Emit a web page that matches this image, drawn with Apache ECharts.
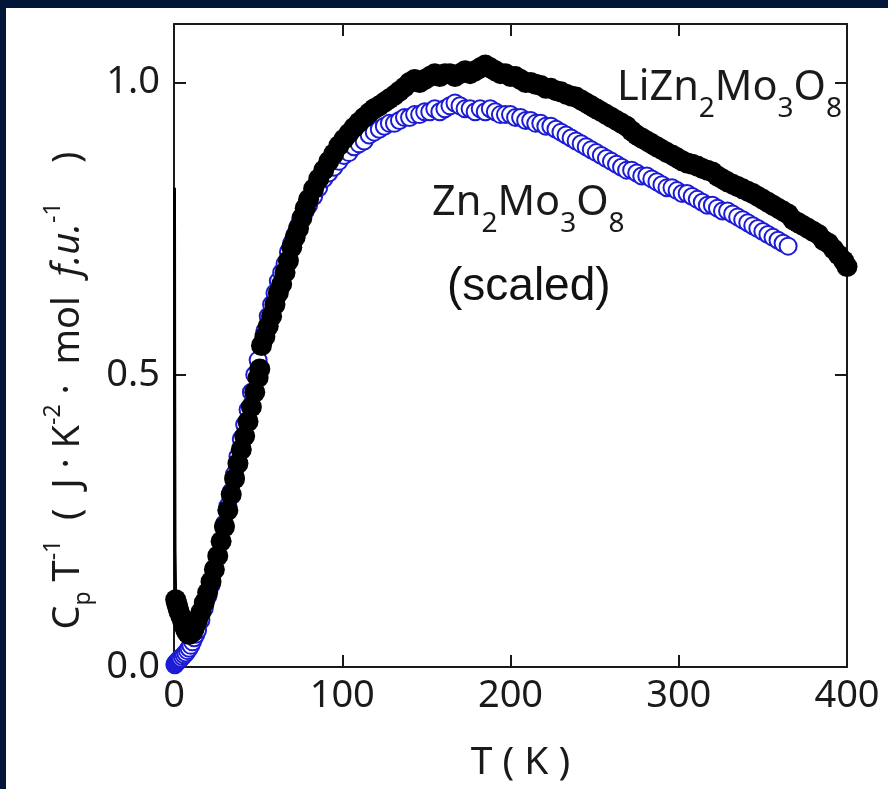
<!DOCTYPE html>
<html><head><meta charset="utf-8">
<script src="https://cdn.jsdelivr.net/npm/echarts@6/dist/echarts.min.js"></script>
<style>
html,body{margin:0;padding:0;background:#021737;width:888px;height:789px;overflow:hidden}
#chart{position:absolute;left:6px;top:8px;width:882px;height:781px;background:#fff}
</style></head><body><div id="chart"></div>
<script>
// Zn2Mo3O8 (scaled) : [T (K), Cp/T]
const znData = [
[0.5,0.004],[1,0.006],[1.5,0.008],[2,0.009],[2.5,0.011],[3,0.012],[3.5,0.014],[4,0.015],[5,0.018],[6,0.021],[7,0.024],[8,0.028],[9,0.032],[10,0.037],[11,0.043],[12,0.05],[13,0.056],[14,0.063],[16,0.08],[18,0.1],[20,0.12],[22,0.14],[24,0.165],[26,0.19],[28,0.215],[30,0.245],[32,0.275],[34,0.30],[36,0.33],[38,0.36],[40,0.39],[42,0.415],[44,0.44],[46,0.47],[48,0.50],[50,0.525],[52,0.55],[54,0.575],[56,0.60],[58,0.62],[60,0.64],[62,0.66],[64,0.675],[66,0.69],[68,0.71],[70,0.725],[72,0.74],[74,0.755],[76,0.77],[78,0.78],[80,0.79],[83,0.805],[86,0.82],[89,0.835],[92,0.845],[95,0.855],[98,0.865],[101,0.875],[104,0.88],[107,0.89],[110,0.895],[113,0.90],[116,0.91],[119,0.915],[122,0.92],[125,0.925],[128,0.93],[131,0.93],[134,0.935],[137,0.94],[140,0.94],[143,0.945],[146,0.945],[149,0.95],[152,0.95],[155,0.955],[158,0.95],[161,0.955],[164,0.96],[167,0.965],[170,0.96],[173,0.955],[176,0.955],[179,0.95],[182,0.955],[185,0.95],[188,0.955],[191,0.95],[194,0.945],[197,0.945],[200,0.945],[203,0.94],[206,0.94],[209,0.935],[212,0.935],[215,0.93],[218,0.93],[221,0.925],[224,0.925],[227,0.92],[230,0.915],[233,0.91],[236,0.905],[239,0.90],[242,0.895],[245,0.89],[248,0.885],[251,0.88],[254,0.875],[257,0.87],[260,0.865],[263,0.86],[266,0.855],[269,0.85],[272,0.85],[275,0.845],[278,0.84],[281,0.84],[284,0.835],[287,0.83],[290,0.825],[293,0.82],[296,0.82],[299,0.815],[302,0.81],[305,0.81],[308,0.805],[311,0.80],[314,0.795],[317,0.79],[320,0.79],[323,0.785],[326,0.78],[329,0.78],[332,0.775],[335,0.77],[338,0.765],[341,0.76],[344,0.755],[347,0.75],[350,0.745],[353,0.74],[356,0.735],[359,0.73],[362,0.725],[365,0.72]
];
// LiZn2Mo3O8 : [T (K), Cp/T]
const liData = [
[1,0.115],[1.5,0.11],[2,0.105],[2.5,0.1],[3,0.095],[4,0.088],[5,0.08],[6,0.07],[7,0.063],[8,0.058],[9,0.056],[10,0.057],[11,0.06],[12,0.066],[13,0.073],[14,0.08],[16,0.094],[18,0.11],[20,0.127],[22,0.146],[24,0.167],[26,0.19],[28,0.215],[30,0.24],[32,0.268],[34,0.295],[36,0.322],[38,0.348],[40,0.372],[42,0.395],[44,0.42],[46,0.445],[48,0.47],[50,0.495],[51,0.51],[52,0.55],[54,0.565],[56,0.583],[58,0.6],[60,0.62],[62,0.64],[64,0.655],[66,0.675],[68,0.695],[70,0.718],[72,0.735],[74,0.75],[76,0.768],[78,0.785],[80,0.8],[83,0.818],[86,0.835],[89,0.85],[92,0.865],[95,0.878],[98,0.892],[101,0.903],[104,0.913],[107,0.923],[110,0.932],[113,0.94],[116,0.948],[119,0.955],[122,0.96],[125,0.966],[128,0.972],[131,0.978],[134,0.985],[137,0.992],[140,1.0],[143,1.005],[146,1.0],[149,1.005],[152,1.01],[155,1.015],[158,1.01],[161,1.015],[164,1.015],[167,1.01],[170,1.015],[173,1.02],[176,1.015],[179,1.02],[182,1.025],[185,1.03],[188,1.025],[191,1.02],[194,1.015],[197,1.015],[200,1.01],[203,1.01],[206,1.005],[209,1.0],[212,1.0],[215,0.997],[218,0.995],[221,0.99],[224,0.99],[227,0.986],[230,0.984],[233,0.98],[236,0.977],[239,0.975],[242,0.97],[245,0.965],[248,0.96],[251,0.955],[254,0.95],[257,0.945],[260,0.94],[263,0.935],[266,0.93],[269,0.925],[272,0.917],[275,0.91],[278,0.905],[281,0.9],[284,0.895],[287,0.89],[290,0.885],[293,0.88],[296,0.876],[299,0.871],[302,0.866],[305,0.862],[308,0.86],[311,0.857],[314,0.853],[317,0.85],[320,0.847],[323,0.84],[326,0.835],[329,0.83],[332,0.826],[335,0.822],[338,0.818],[341,0.814],[344,0.81],[347,0.805],[350,0.8],[353,0.795],[356,0.79],[359,0.785],[362,0.78],[365,0.775],[368,0.765],[371,0.76],[374,0.755],[377,0.75],[380,0.745],[383,0.74],[386,0.73],[389,0.725],[392,0.715],[395,0.705],[398,0.695],[400,0.685]
];
// LiZn2Mo3O8 low-temperature upturn
const liLowT = [[0.3,0.82],[0.4,0.5],[0.6,0.2],[1,0.115]];

const xTicks = [0, 100, 200, 300, 400];
const yTicks = [0.0, 0.5, 1.0];

const AX = '#1a1a1a';
const FONT = "'Noto Sans', 'Open Sans', sans-serif";

const chart = echarts.init(document.getElementById('chart'), null, {renderer: 'canvas'});

const tok = (size, extra) => Object.assign({fontSize: size, fontFamily: FONT, fontWeight: 'normal', color: AX}, extra || {});
const formulaRich = {
  m: tok(41.5, {lineHeight: 40}),
  s: tok(28, {lineHeight: 40, padding: [42, 0, 0, 0]})
};

const axisCommon = {
  axisLine: {show: true, onZero: false, lineStyle: {color: AX, width: 2}},
  axisTick: {show: true, inside: true, length: 12, lineStyle: {color: AX, width: 2}},
  splitLine: {show: false}
};

chart.setOption({
  animation: false,
  backgroundColor: '#fff',
  title: [
    {text: '{m|LiZn}{s|2}{m|Mo}{s|3}{m|O}{s|8}', left: 611, top: 60, padding: 0,
      textStyle: {fontWeight: 'normal', rich: formulaRich}},
    {text: '{m|Zn}{s|2}{m|Mo}{s|3}{m|O}{s|8}', left: 426, top: 175, padding: 0,
      textStyle: {fontWeight: 'normal', rich: formulaRich}},
    {text: '(scaled)', left: 441, top: 256, padding: 0,
      textStyle: {fontSize: 46, lineHeight: 46, fontWeight: 'normal', fontFamily: "'Liberation Sans', Arial, sans-serif", color: '#111'}}
  ],
  grid: {left: 168, right: 41, top: 16, bottom: 122, containLabel: false},
  xAxis: [
    Object.assign({}, axisCommon, {
      type: 'value', min: 0, max: 400, interval: 100, position: 'bottom',
      name: 'T ( K )', nameLocation: 'middle', nameGap: 76,
      nameTextStyle: {fontSize: 39, fontFamily: FONT, color: AX, padding: [0, 0, 0, 20]},
      axisLabel: {show: true, margin: 10, fontSize: 38, fontFamily: FONT, color: AX,
        formatter: v => (xTicks.indexOf(v) >= 0 ? String(v) : '')}
    }),
    Object.assign({}, axisCommon, {
      type: 'value', min: 0, max: 400, interval: 100, position: 'top',
      axisLabel: {show: false}
    })
  ],
  yAxis: [
    Object.assign({}, axisCommon, {
      type: 'value', min: 0, max: 1.1, interval: 0.5, position: 'left',
      name: '{m|C}{d|p}{m| T}{u|-1}{m|  (  J · K}{u|-2}{m| ·  mol  }{i|f.u.}{u|-1}{m|    )}',
      nameLocation: 'middle', nameRotate: 90, nameGap: 74,
      nameTextStyle: {
        padding: [0, 90, 0, 0],
        rich: {
          m: tok(38, {lineHeight: 44}),
          i: tok(38, {lineHeight: 44, fontStyle: 'italic'}),
          d: tok(23, {lineHeight: 44, padding: [32, 0, 0, 0]}),
          u: tok(23, {lineHeight: 44, padding: [0, 0, 28, 0]})
        }
      },
      axisLabel: {show: true, margin: 14, fontSize: 38, fontFamily: FONT, color: AX, showMaxLabel: false,
        formatter: v => (yTicks.some(t => Math.abs(t - v) < 1e-9) ? v.toFixed(1) : '')}
    }),
    Object.assign({}, axisCommon, {
      type: 'value', min: 0, max: 1.1, interval: 0.5, position: 'right',
      axisLabel: {show: false}
    })
  ],
  series: [
    {
      name: 'Zn2Mo3O8 (scaled)', type: 'scatter', xAxisIndex: 0, yAxisIndex: 0,
      data: znData, symbol: 'emptyCircle', symbolSize: 17,
      itemStyle: {color: '#1c1cd6', borderColor: '#1c1cd6', borderWidth: 1.3, opacity: 1},
      emphasis: {disabled: true}, z: 2
    },
    {
      name: 'LiZn2Mo3O8', type: 'scatter', xAxisIndex: 0, yAxisIndex: 0,
      data: liData, symbol: 'circle', symbolSize: 21,
      itemStyle: {color: '#000', opacity: 1},
      emphasis: {disabled: true}, z: 3
    },
    {
      name: 'LiZn2Mo3O8 low T', type: 'line', xAxisIndex: 0, yAxisIndex: 0,
      data: liLowT, showSymbol: false, symbol: 'none',
      lineStyle: {color: '#000', width: 3}, z: 4
    }
  ]
});
</script></body></html>
